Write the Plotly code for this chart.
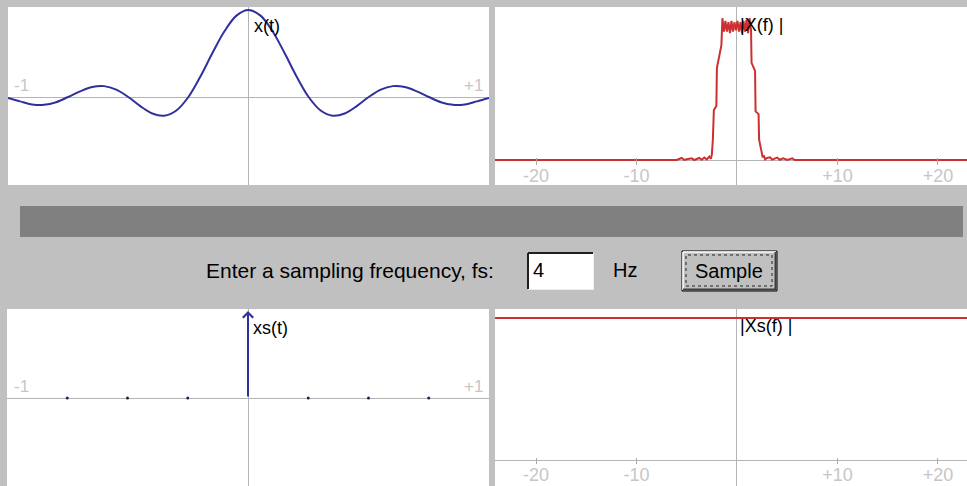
import plotly.graph_objects as go

W, H = 967, 486

# ---- data ---------------------------------------------------------------
# continuous-time pulse x(t) on [-1, 1] s
t_vals = [-1.0, -0.95, -0.9, -0.85, -0.8, -0.75, -0.7, -0.65, -0.6, -0.55,
          -0.5, -0.45, -0.4, -0.35, -0.3, -0.25, -0.2, -0.15, -0.1, -0.05,
          0.0, 0.05, 0.1, 0.15, 0.2, 0.25, 0.3, 0.35, 0.4, 0.45,
          0.5, 0.55, 0.6, 0.65, 0.7, 0.75, 0.8, 0.85, 0.9, 0.95, 1.0]
x_vals = [-0.01, -0.05, -0.085, -0.09, -0.06, 0.0, 0.065, 0.115, 0.125, 0.085,
          0.0, -0.105, -0.19, -0.215, -0.155, 0.0, 0.235, 0.505, 0.755, 0.935,
          1.0, 0.935, 0.755, 0.505, 0.235, 0.0, -0.155, -0.215, -0.19, -0.105,
          0.0, 0.085, 0.125, 0.115, 0.065, 0.0, -0.06, -0.09, -0.085, -0.05, -0.01]

# magnitude spectrum |X(f)|, f in Hz
f_vals = [-24.1, -6.0, -5.5, -5.25, -5.0, -4.5, -4.25, -4.0, -3.75, -3.5,
          -3.25, -3.0, -2.75, -2.6, -2.5, -2.4, -2.3, -2.05, -2.0, -1.55,
          -1.5, -1.45, -1.3, -1.15, -1.0, -0.85, -0.7, -0.55, -0.4, -0.25,
          -0.1, 0.05, 0.2, 0.35, 0.5, 0.65, 0.8, 0.95, 1.1, 1.25,
          1.4, 1.45, 1.8, 1.85, 2.15, 2.2, 2.45, 2.55, 2.65, 2.8,
          3.0, 3.3, 3.5, 3.75, 4.0, 4.25, 4.6, 5.0, 5.5, 5.75, 24.1]
X_mag = [0.0, 0.0, 0.015, 0.0, 0.005, 0.012, 0.0, 0.008, 0.015, 0.002,
         0.018, 0.004, 0.025, 0.01, 0.04, 0.15, 0.37, 0.4, 0.68, 0.85,
         0.97, 1.05, 0.95, 1.03, 0.95, 1.02, 0.94, 1.03, 0.95, 1.02,
         0.96, 1.03, 0.95, 1.02, 0.94, 1.03, 0.95, 1.04, 0.94, 1.05,
         0.96, 0.72, 0.66, 0.36, 0.34, 0.15, 0.06, 0.02, 0.035, 0.005,
         0.015, 0.02, 0.003, 0.012, 0.018, 0.002, 0.012, 0.0, 0.012, 0.0, 0.0]

# samples of x(t) taken at fs = 4 Hz
fs_hz = 4
ts_vals = [-0.75, -0.5, -0.25, 0.0, 0.25, 0.5, 0.75]
xs_vals = [0.0, 0.0, 0.0, 1.0, 0.0, 0.0, 0.0]

# magnitude spectrum of the sampled signal |Xs(f)|
fs_f_vals = [-24.1, 24.1]
Xs_mag = [1.0, 1.0]

freq_tick_vals = [-20, -10, 10, 20]
freq_tick_text = ["-20", "-10", "+10", "+20"]
time_edge_text = ["-1", "+1"]

# ---- styling ------------------------------------------------------------
BG = "#c0c0c0"
BLUE = "#30309c"
RED = "#cc3030"
AXIS = "#b4b4b4"
FAINT = "#c6c6c6"
FONT = "Arial, Liberation Sans, sans-serif"


def px(x):
    return x / W


def py(y):
    return 1 - y / H


fig = go.Figure()

fig.add_trace(go.Scatter(x=t_vals, y=x_vals, mode="lines", line=dict(color=BLUE, width=2, shape="spline"),
                         xaxis="x", yaxis="y", hoverinfo="skip"))
fig.add_trace(go.Scatter(x=f_vals, y=X_mag, mode="lines", line=dict(color=RED, width=2),
                         xaxis="x2", yaxis="y2", hoverinfo="skip"))
zero_t = [t for t, v in zip(ts_vals, xs_vals) if v == 0]
zero_v = [v for v in xs_vals if v == 0]
fig.add_trace(go.Scatter(x=zero_t, y=zero_v, mode="markers", marker=dict(color="#202050", size=3),
                         xaxis="x3", yaxis="y3", hoverinfo="skip"))
fig.add_trace(go.Scatter(x=fs_f_vals, y=Xs_mag, mode="lines", line=dict(color=RED, width=2),
                         xaxis="x4", yaxis="y4", hoverinfo="skip"))

annotations = []
# impulses of xs(t) drawn as arrows from the axis
for t, v in zip(ts_vals, xs_vals):
    if v != 0:
        annotations.append(dict(x=t, y=v, ax=t, ay=0, xref="x3", yref="y3", axref="x3", ayref="y3",
                                text="", showarrow=True, arrowhead=4, arrowsize=1, arrowwidth=2,
                                arrowcolor=BLUE))

top_dom_y = [py(185), py(7)]
bot_dom_y = [0, py(309)]
left_dom_x = [px(8), px(489)]
right_dom_x = [px(495), 1.0]

common_y = dict(showgrid=False, showticklabels=False, ticks="", zeroline=True, automargin=False,
                zerolinecolor=AXIS, zerolinewidth=1, fixedrange=True)
time_x = dict(showgrid=False, showticklabels=False, ticks="", zeroline=True, automargin=False,
              zerolinecolor=AXIS, zerolinewidth=1, range=[-1, 1])
freq_x = dict(showgrid=False, zeroline=True, zerolinecolor=AXIS, zerolinewidth=1, automargin=False,
              range=[-24.08, 22.89], tickvals=freq_tick_vals, ticktext=freq_tick_text,
              ticks="outside", ticklen=7, tickcolor="#aaaaaa", tickwidth=1, ticklabelstandoff=-5,
              tickfont=dict(family=FONT, size=18, color=FAINT), anchor="free", showline=False)

fig.update_layout(
    width=W, height=H, margin=dict(l=0, r=0, t=0, b=0, pad=0, autoexpand=False),
    paper_bgcolor=BG, plot_bgcolor="white", showlegend=False,
    xaxis=dict(domain=left_dom_x, anchor="y", **time_x),
    yaxis=dict(domain=top_dom_y, anchor="x", range=[-1.011, 1.034], **common_y),
    xaxis2=dict(domain=right_dom_x, position=py(157), **freq_x),
    yaxis2=dict(domain=top_dom_y, anchor="x2", range=[-0.185, 1.133], **common_y),
    xaxis3=dict(domain=[px(7), px(489)], anchor="y3", **time_x),
    yaxis3=dict(domain=bot_dom_y, anchor="x3", range=[-1.011, 1.023], **common_y),
    xaxis4=dict(domain=right_dom_x, position=py(457), **{**freq_x, "ticklen": 6}),
    yaxis4=dict(domain=bot_dom_y, anchor="x4", range=[-0.183, 1.063], **common_y),
)

label_font = dict(family=FONT, size=18, color="black")
edge_font = dict(family=FONT, size=17, color=FAINT)
ui_font = dict(family=FONT, size=20, color="black")

# panel titles
annotations += [
    dict(text="x(t)", x=0, xref="x", xshift=3, xanchor="left", y=py(26), yref="paper", yanchor="middle",
         showarrow=False, font=label_font),
    dict(text="|X(f) |", x=0, xref="x2", xshift=1, xanchor="left", y=py(25), yref="paper",
         yanchor="middle", showarrow=False, font=label_font),
    dict(text="xs(t)", x=0, xref="x3", xshift=3, xanchor="left", y=py(328), yref="paper",
         yanchor="middle", showarrow=False, font=label_font),
    dict(text="|Xs(f) |", x=0, xref="x4", xshift=1, xanchor="left", y=py(326), yref="paper",
         yanchor="middle", showarrow=False, font=label_font),
]
# time-axis end labels
for yc in (86, 386):
    annotations.append(dict(text=time_edge_text[0], x=px(12), xanchor="left", y=py(yc), xref="paper",
                            yref="paper", yanchor="middle", showarrow=False, font=edge_font))
    annotations.append(dict(text=time_edge_text[1], x=px(485), xanchor="right", y=py(yc), xref="paper",
                            yref="paper", yanchor="middle", showarrow=False, font=edge_font))

# sampling controls
annotations += [
    dict(text="Enter a sampling frequency, fs:", x=px(496), xanchor="right", y=py(270), yanchor="middle",
         xref="paper", yref="paper", showarrow=False, font={**ui_font, "size": 21}),
    dict(text=str(fs_hz), x=px(531), xanchor="left", y=py(270), yanchor="middle",
         xref="paper", yref="paper", showarrow=False, font=ui_font),
    dict(text="Hz", x=px(611), xanchor="left", y=py(270), yanchor="middle",
         xref="paper", yref="paper", showarrow=False, font=ui_font),
    dict(text="Sample", x=px(729), xanchor="center", y=py(271), yanchor="middle",
         xref="paper", yref="paper", showarrow=False, font=ui_font),
]


def rect(x0, y0, x1, y1, fill, line=None, width=0, dash=None):
    return dict(type="rect", xref="paper", yref="paper", x0=px(x0), x1=px(x1), y0=py(y1), y1=py(y0),
                fillcolor=fill, line=dict(color=line or fill, width=width, dash=dash), layer="above")


def seg(x0, y0, x1, y1, color, width):
    return dict(type="line", xref="paper", yref="paper", x0=px(x0), x1=px(x1), y0=py(y0), y1=py(y1),
                line=dict(color=color, width=width), layer="above")


shapes = [
    rect(20, 206, 963, 237, "#808080"),
    # text field
    rect(528, 253, 593, 289, "white"),
    seg(528, 253, 593, 253, "#202020", 2),
    seg(528, 253, 528, 289, "#202020", 2),
    seg(528, 289.5, 594, 289.5, "#eeeeee", 1),
    seg(593.5, 253, 593.5, 289.5, "#eeeeee", 1),
    # push button
    rect(682, 251, 777, 291, BG, "#000000", 1),
    seg(683, 252, 776, 252, "white", 1.5),
    seg(683, 252, 683, 290, "white", 1.5),
    seg(683, 289.5, 776, 289.5, "#404040", 2),
    seg(775.5, 252, 775.5, 290, "#404040", 2),
    dict(type="rect", xref="paper", yref="paper", x0=px(686), x1=px(772), y0=py(286), y1=py(255),
         line=dict(color="#202020", width=1, dash="dot"), fillcolor="rgba(0,0,0,0)", layer="above"),
]

fig.update_layout(annotations=annotations, shapes=shapes)
fig.write_html("out.html")
